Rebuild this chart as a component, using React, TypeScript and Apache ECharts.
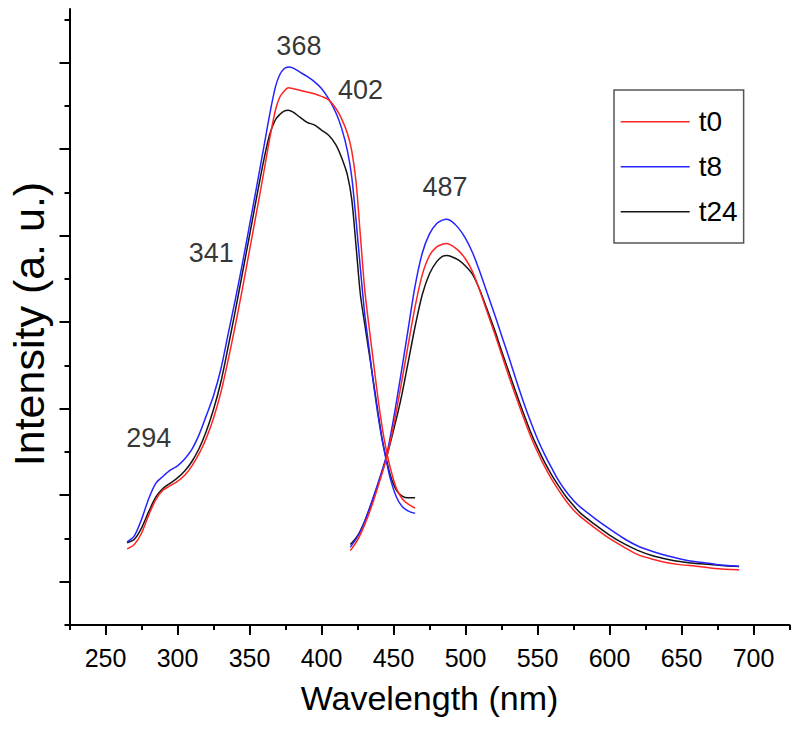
import { useEffect, useRef } from 'react';
import * as echarts from 'echarts';

const FONT = '"Liberation Sans", Arial, Helvetica, sans-serif';

const seriesNames = ['t0', 't8', 't24'];
const seriesColors = ['#ff2424', '#2424ff', '#141414'];

// Excitation spectra (left band)
const excWl = [265, 270, 275, 280, 285, 290, 295, 300, 305, 310, 315, 320, 325, 330, 335, 340, 345, 350, 355, 360, 364, 368, 371, 374, 377, 380, 385, 390, 395, 400, 405, 410, 414, 418, 421, 424, 427, 430, 433, 436, 439, 442, 445, 448, 452, 456, 460, 465];
const excT0 = [0.38, 0.43, 0.56, 0.77, 0.95, 1.06, 1.11, 1.16, 1.23, 1.34, 1.48, 1.66, 1.89, 2.18, 2.55, 2.95, 3.38, 3.83, 4.28, 4.74, 5.12, 5.45, 5.60, 5.67, 5.71, 5.70, 5.68, 5.66, 5.64, 5.61, 5.57, 5.47, 5.35, 5.18, 4.98, 4.62, 4.00, 3.38, 2.95, 2.55, 2.15, 1.80, 1.52, 1.30, 1.08, 0.96, 0.90, 0.85];
const excT8 = [0.46, 0.53, 0.72, 0.96, 1.14, 1.22, 1.29, 1.34, 1.42, 1.53, 1.70, 1.92, 2.15, 2.45, 2.85, 3.25, 3.67, 4.12, 4.57, 5.03, 5.40, 5.72, 5.86, 5.93, 5.95, 5.94, 5.89, 5.84, 5.78, 5.70, 5.58, 5.42, 5.24, 4.98, 4.68, 4.18, 3.62, 3.10, 2.70, 2.30, 1.95, 1.65, 1.40, 1.18, 0.98, 0.87, 0.82, 0.79];
const excT24 = [0.45, 0.49, 0.62, 0.81, 0.98, 1.08, 1.14, 1.20, 1.28, 1.39, 1.54, 1.74, 1.99, 2.30, 2.70, 3.12, 3.56, 4.00, 4.45, 4.88, 5.17, 5.34, 5.40, 5.44, 5.45, 5.43, 5.37, 5.31, 5.28, 5.22, 5.16, 5.05, 4.90, 4.70, 4.42, 3.88, 3.32, 2.98, 2.65, 2.32, 1.98, 1.66, 1.42, 1.22, 1.06, 0.99, 0.97, 0.97];

// Emission spectra (right band)
const emWl = [420, 425, 430, 435, 440, 445, 450, 455, 460, 465, 470, 475, 480, 484, 487, 490, 495, 500, 505, 510, 515, 520, 525, 530, 535, 540, 545, 550, 555, 560, 565, 570, 575, 580, 590, 600, 610, 620, 630, 640, 650, 660, 670, 680, 690];
const emT0 = [0.36, 0.48, 0.66, 0.88, 1.14, 1.42, 1.80, 2.25, 2.72, 3.18, 3.55, 3.77, 3.87, 3.90, 3.91, 3.89, 3.83, 3.73, 3.58, 3.36, 3.12, 2.88, 2.63, 2.38, 2.14, 1.91, 1.69, 1.50, 1.33, 1.18, 1.05, 0.93, 0.83, 0.75, 0.62, 0.50, 0.40, 0.31, 0.26, 0.22, 0.195, 0.18, 0.16, 0.145, 0.14];
const emT8 = [0.40, 0.52, 0.70, 0.93, 1.18, 1.45, 1.88, 2.38, 2.90, 3.42, 3.80, 4.02, 4.14, 4.18, 4.19, 4.17, 4.09, 3.97, 3.80, 3.58, 3.34, 3.10, 2.85, 2.60, 2.34, 2.09, 1.86, 1.65, 1.47, 1.31, 1.16, 1.04, 0.94, 0.86, 0.73, 0.61, 0.50, 0.41, 0.35, 0.30, 0.26, 0.23, 0.21, 0.19, 0.18];
const emT24 = [0.43, 0.53, 0.70, 0.92, 1.16, 1.43, 1.75, 2.10, 2.52, 2.95, 3.32, 3.56, 3.70, 3.76, 3.77, 3.76, 3.72, 3.65, 3.55, 3.37, 3.15, 2.92, 2.67, 2.43, 2.19, 1.96, 1.74, 1.55, 1.38, 1.23, 1.10, 0.98, 0.88, 0.79, 0.66, 0.54, 0.44, 0.36, 0.30, 0.26, 0.23, 0.21, 0.20, 0.185, 0.177];

// Axis ticks
const xMajorTicks = [250, 300, 350, 400, 450, 500, 550, 600, 650, 700];
const xMinorTicks = [225, 275, 325, 375, 425, 475, 525, 575, 625, 675, 725];
const yMajorTicks = [0, 1, 2, 3, 4, 5, 6];
const yMinorTicks = [-0.5, 0.5, 1.5, 2.5, 3.5, 4.5, 5.5, 6.5];

// Peak annotations
const peakLabels = ['294', '341', '368', '402', '487'];
const peakLabelX = [280.1, 323.5, 384.3, 427.1, 485.8];
const peakLabelY = [1.66, 3.8, 6.19, 5.68, 4.56];

const excSets = [excT0, excT8, excT24];
const emSets = [emT0, emT8, emT24];

export default function App() {
  const ref = useRef<HTMLDivElement>(null);
  useEffect(() => {
    if (!ref.current) return;
    const chart = echarts.init(ref.current, undefined, { renderer: 'svg' });

    const lineSeries: any[] = [];
    seriesNames.forEach((name, i) => {
      const common = {
        type: 'line',
        name,
        symbol: 'none',
        smooth: 0.3,
        xAxisIndex: 0,
        yAxisIndex: 0,
        lineStyle: { color: seriesColors[i], width: 1.5 },
        itemStyle: { color: seriesColors[i] },
        z: 3 - i,
      };
      lineSeries.push({ ...common, data: excWl.map((w, k) => [w, excSets[i][k]]) });
      lineSeries.push({ ...common, data: emWl.map((w, k) => [w, emSets[i][k]]) });
    });

    const xBase = {
      type: 'value',
      min: 225,
      max: 725,
      position: 'bottom',
      splitLine: { show: false },
    };
    const yBase = {
      type: 'value',
      min: -0.5,
      max: 6.62,
      position: 'left',
      splitLine: { show: false },
    };

    chart.setOption({
      animation: false,
      backgroundColor: '#ffffff',
      grid: { left: 69.5, right: 10.5, top: 9, bottom: 121, containLabel: false, outerBoundsMode: 'none' },
      legend: {
        data: seriesNames,
        orient: 'vertical',
        left: 614,
        top: 90,
        padding: [15.7, 6, 15.3, 6.7],
        borderColor: '#555555',
        borderWidth: 1.5,
        icon: 'rect',
        itemWidth: 69,
        itemHeight: 1.6,
        itemGap: 13,
        textStyle: { fontSize: 28, lineHeight: 32, color: '#000', fontFamily: FONT, padding: [0, 0, 0, 4] },
      },
      xAxis: [
        {
          ...xBase,
          name: 'Wavelength (nm)',
          nameLocation: 'middle',
          nameGap: 56,
          nameTextStyle: { fontSize: 34, color: '#000', fontFamily: FONT },
          axisLine: { show: true, onZero: false, lineStyle: { color: '#000', width: 2 } },
          axisTick: { show: true, length: 10, lineStyle: { color: '#000', width: 2 }, customValues: xMajorTicks },
          axisLabel: { show: true, fontSize: 25, color: '#000', fontFamily: FONT, margin: 20, customValues: xMajorTicks },
        },
        {
          ...xBase,
          axisLine: { show: false, onZero: false },
          axisTick: { show: true, length: 5, lineStyle: { color: '#000', width: 2 }, customValues: xMinorTicks },
          axisLabel: { show: false },
        },
      ],
      yAxis: [
        {
          ...yBase,
          name: 'Intensity (a. u.)',
          nameLocation: 'middle',
          nameGap: 19,
          nameTextStyle: { fontSize: 43, color: '#000', fontFamily: FONT, padding: [0, 14, 0, 0] },
          axisLine: { show: true, onZero: false, lineStyle: { color: '#000', width: 2 } },
          axisTick: { show: true, length: 10, lineStyle: { color: '#000', width: 2 }, customValues: yMajorTicks },
          axisLabel: { show: false },
        },
        {
          ...yBase,
          axisLine: { show: false, onZero: false },
          axisTick: { show: true, length: 5, lineStyle: { color: '#000', width: 2 }, customValues: yMinorTicks },
          axisLabel: { show: false },
        },
      ],
      series: [
        ...lineSeries,
        {
          type: 'scatter',
          name: 'peaks',
          silent: true,
          symbolSize: 1,
          itemStyle: { color: 'rgba(0,0,0,0)' },
          label: {
            show: true,
            position: 'inside',
            formatter: (p: any) => p.name,
            fontSize: 27,
            color: '#000',
            fontFamily: FONT,
          },
          data: peakLabels.map((t, k) => ({ name: t, value: [peakLabelX[k], peakLabelY[k]] })),
          z: 5,
        },
      ],
    });
    return () => chart.dispose();
  }, []);
  return <div ref={ref} style={{ position: 'fixed', left: 0, top: 0, width: 800, height: 746 }} />;
}
